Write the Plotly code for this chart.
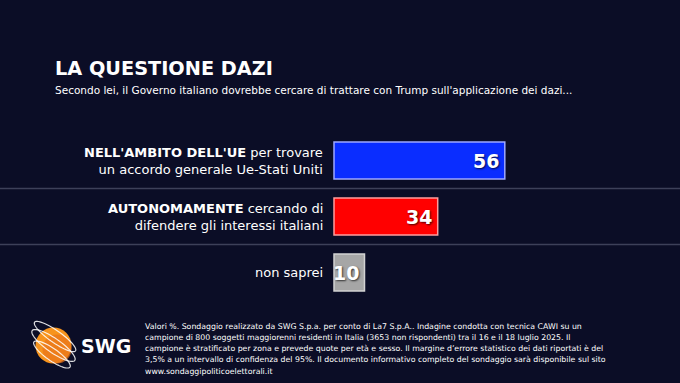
import numpy as np
import plotly.graph_objects as go

# ---------------- data ----------------
categories = ["NELL'AMBITO DELL'UE", "AUTONOMAMENTE", "non saprei"]
label_bold = ["NELL'AMBITO DELL'UE", "AUTONOMAMENTE", ""]
label_rest = ["per trovare<br>un accordo generale Ue-Stati Uniti",
              "cercando di<br>difendere gli interessi italiani",
              "non saprei"]
values = [56, 34, 10]

title_text = "LA QUESTIONE DAZI"
subtitle_text = "Secondo lei, il Governo italiano dovrebbe cercare di trattare con Trump sull'applicazione dei dazi..."
footnote_lines = [
    "Valori %. Sondaggio realizzato da SWG S.p.a. per conto di La7 S.p.A.. Indagine condotta con tecnica CAWI su un",
    "campione di 800 soggetti maggiorenni residenti in Italia (3653 non rispondenti) tra il 16 e il 18 luglio 2025. Il",
    "campione è stratificato per zona e prevede quote per età e sesso. Il margine d’errore statistico dei dati riportati è del",
    "3,5% a un intervallo di confidenza del 95%. Il documento informativo completo del sondaggio sarà disponibile sul sito",
    "www.sondaggipoliticoelettorali.it",
]
logo_text = "SWG"

# ---------------- style ----------------
W, H = 680, 383
BG = "#0b0d26"
bar_colors = ["#0a2dff", "#ff0000", "#a6a6a6"]
border_colors = ["#9ea8ff", "#ff9d9d", "#d2d2d2"]
FONT = "DejaVu Sans"

X0_PX = 334.0      # pixel of value 0
PX_PER_UNIT = 3.05
ROW0_PX = 160.5    # pixel centre of first row
ROW_PX = 56.0      # row spacing

xrange = [-X0_PX / PX_PER_UNIT, (W - X0_PX) / PX_PER_UNIT]
yrange = [(H - ROW0_PX) / ROW_PX, -ROW0_PX / ROW_PX]


def px(x):
    return x / W


def py(y):
    return 1 - y / H


fig = go.Figure()
fig.add_trace(go.Bar(
    x=values, y=categories, orientation="h",
    width=37 / 56,
    marker=dict(color=bar_colors, line=dict(color=border_colors, width=1.5)),
    hoverinfo="skip",
))

annotations = []
shapes = []

# category labels and values
for i, (cat, b, r, v) in enumerate(zip(categories, label_bold, label_rest, values)):
    txt = (f"<b>{b}</b> " if b else "") + r
    annotations.append(dict(
        x=0, y=cat, xref="x", yref="y", xshift=-9, xanchor="right", yanchor="middle",
        align="right", showarrow=False, text=txt,
        font=dict(family=FONT, size=13, color="white"),
    ))
    annotations.append(dict(
        x=v, y=cat, xref="x", yref="y", xshift=-4, xanchor="right", yanchor="middle",
        showarrow=False, text=f"<b>{v}</b>",
        font=dict(family=FONT, size=19, color="white", shadow="1px 1px 2px rgba(0,0,0,0.7)"),
    ))

# separators between rows
for k in range(len(categories) - 1):
    shapes.append(dict(type="line", xref="paper", yref="y", x0=0, x1=1, y0=k + 0.5, y1=k + 0.5,
                       line=dict(color="#3d4059", width=1.5), layer="below"))

# title & subtitle
annotations.append(dict(x=px(53), y=py(68.5), xref="paper", yref="paper", xanchor="left", yanchor="middle",
                        showarrow=False, text=f"<b>{title_text}</b>",
                        font=dict(family=FONT, size=19.3, color="white")))
annotations.append(dict(x=px(53), y=py(90), xref="paper", yref="paper", xanchor="left", yanchor="middle",
                        showarrow=False, text=subtitle_text,
                        font=dict(family=FONT, size=10.5, color="white")))

# footnote
for j, line in enumerate(footnote_lines):
    annotations.append(dict(x=px(143), y=py(326 + 11.25 * j), xref="paper", yref="paper",
                            xanchor="left", yanchor="middle", showarrow=False, text=line,
                            font=dict(family=FONT, size=7.8, color="white")))

# logo
cx, cy, rr = 53.5, 345.5, 18
shapes.append(dict(type="circle", xref="paper", yref="paper",
                   x0=px(cx - rr), x1=px(cx + rr), y0=py(cy + rr), y1=py(cy - rr),
                   fillcolor="#f7941d", line=dict(width=0), layer="above"))
shapes.append(dict(type="circle", xref="paper", yref="paper",
                   x0=px(cx - rr + 7), x1=px(cx + rr), y0=py(cy + rr), y1=py(cy - rr + 7),
                   fillcolor="#e8731a", line=dict(width=0), layer="above", opacity=0.7))
t = np.linspace(0, 2 * np.pi, 60)
for off, (a, b, ang) in zip([-9, 0, 9], [(25, 6, 35), (26, 7, 35), (22, 6, 35)]):
    th = np.deg2rad(ang)
    ex = a * np.cos(t)
    ey = b * np.sin(t)
    xs = cx + ex * np.cos(th) - ey * np.sin(th) - off * np.sin(th) * 0.3
    ys = cy + ex * np.sin(th) + ey * np.cos(th) + off
    path = "M " + " L ".join(f"{px(xv):.5f},{py(yv):.5f}" for xv, yv in zip(xs, ys)) + " Z"
    shapes.append(dict(type="path", xref="paper", yref="paper", path=path,
                       line=dict(color="rgba(255,255,255,0.85)", width=1.2), layer="above"))
annotations.append(dict(x=px(79), y=py(345.5), xref="paper", yref="paper", xanchor="left", yanchor="middle",
                        showarrow=False, text=f"<b>{logo_text}</b>",
                        font=dict(family=FONT, size=19, color="white")))

fig.update_layout(
    width=W, height=H,
    margin=dict(l=0, r=0, t=0, b=0),
    paper_bgcolor=BG, plot_bgcolor=BG,
    showlegend=False,
    xaxis=dict(range=xrange, visible=False, fixedrange=True),
    yaxis=dict(range=yrange, visible=False, type="category", fixedrange=True),
    annotations=annotations,
    shapes=shapes,
)

fig.write_html(
    "out.html",
    config={"displayModeBar": False},
    post_script="document.body.style.margin='0';document.body.style.background='" + BG + "';",
)
